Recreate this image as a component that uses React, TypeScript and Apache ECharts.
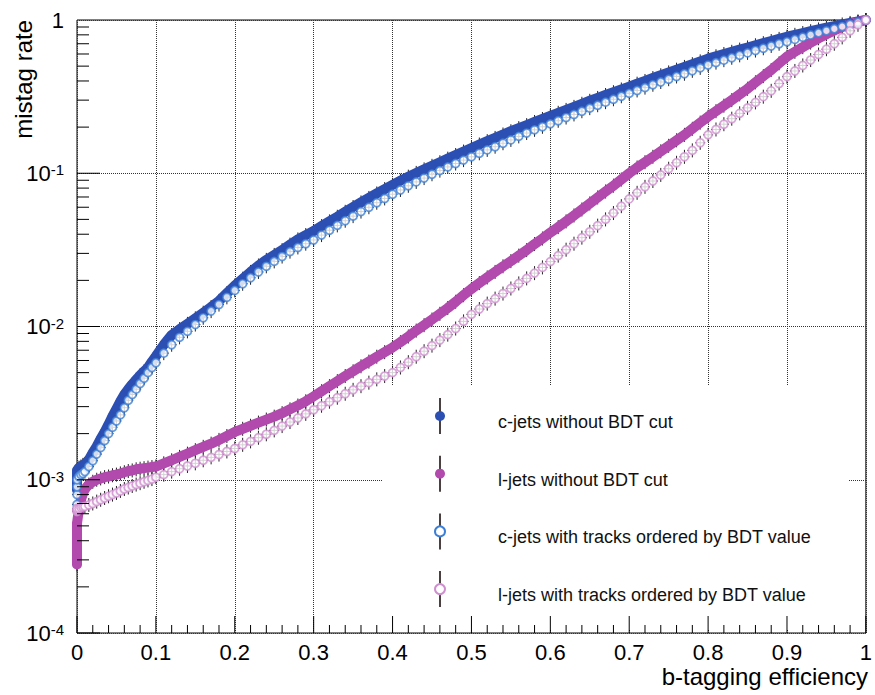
import React, { useEffect, useRef } from "react";
import * as echarts from "echarts";

// b-tagging efficiency grid (x values shared by all four curves)
const EFF = [
  0, 0, 0, 0, 0.0025, 0.005, 0.0075, 0.01, 0.015, 0.02, 0.025, 0.03, 0.035, 0.04, 0.045, 0.05,
  0.055, 0.06, 0.065, 0.07, 0.075, 0.08, 0.085, 0.09, 0.095, 0.1,
  0.11, 0.12, 0.13, 0.14, 0.15, 0.16, 0.17, 0.18, 0.19, 0.2,
  0.21, 0.22, 0.23, 0.24, 0.25, 0.26, 0.27, 0.28, 0.29, 0.3,
  0.31, 0.32, 0.33, 0.34, 0.35, 0.36, 0.37, 0.38, 0.39, 0.4,
  0.41, 0.42, 0.43, 0.44, 0.45, 0.46, 0.47, 0.48, 0.49, 0.5,
  0.51, 0.52, 0.53, 0.54, 0.55, 0.56, 0.57, 0.58, 0.59, 0.6,
  0.61, 0.62, 0.63, 0.64, 0.65, 0.66, 0.67, 0.68, 0.69, 0.7,
  0.71, 0.72, 0.73, 0.74, 0.75, 0.76, 0.77, 0.78, 0.79, 0.8,
  0.81, 0.82, 0.83, 0.84, 0.85, 0.86, 0.87, 0.88, 0.89, 0.9,
  0.91, 0.92, 0.93, 0.94, 0.95, 0.96, 0.97, 0.98, 0.99, 1.0,
];

// c-jets without BDT cut (mistag rate)
const C_NO_BDT = [
  8.6e-4, 9.5e-4, 1.05e-3, 1.15e-3, 1.2e-3, 1.22e-3, 1.25e-3, 1.27e-3, 1.35e-3, 1.5e-3, 1.65e-3, 1.85e-3,
  2.05e-3, 2.3e-3, 2.6e-3, 2.9e-3, 3.25e-3, 3.6e-3, 3.9e-3, 4.2e-3, 4.5e-3, 4.8e-3, 5.1e-3, 5.4e-3, 5.9e-3, 6.4e-3,
  7.6e-3, 8.8e-3, 9.6e-3, 1.04e-2, 1.13e-2, 1.23e-2, 1.34e-2, 1.47e-2, 1.65e-2, 1.85e-2,
  2.05e-2, 2.27e-2, 2.5e-2, 2.72e-2, 2.93e-2, 3.15e-2, 3.42e-2, 3.7e-2, 3.95e-2, 4.2e-2,
  4.52e-2, 4.85e-2, 5.2e-2, 5.6e-2, 6.02e-2, 6.45e-2, 6.9e-2, 7.38e-2, 7.88e-2, 8.4e-2,
  0.0895, 0.095, 0.1005, 0.106, 0.1118, 0.118, 0.1245, 0.1315, 0.1385, 0.146,
  0.154, 0.162, 0.17, 0.179, 0.188, 0.197, 0.206, 0.216, 0.226, 0.237,
  0.248, 0.259, 0.271, 0.284, 0.297, 0.31, 0.324, 0.338, 0.352, 0.367,
  0.384, 0.4, 0.418, 0.436, 0.455, 0.474, 0.494, 0.515, 0.537, 0.56,
  0.58, 0.6, 0.62, 0.641, 0.662, 0.684, 0.706, 0.729, 0.753, 0.778,
  0.8, 0.822, 0.845, 0.868, 0.89, 0.912, 0.935, 0.957, 0.978, 1.0,
];

// l-jets without BDT cut
const L_NO_BDT = [
  2.8e-4, 3.5e-4, 4.3e-4, 5.2e-4, 6.4e-4, 7.4e-4, 8.1e-4, 8.7e-4, 9.3e-4, 9.7e-4, 1.0e-3, 1.02e-3,
  1.04e-3, 1.05e-3, 1.07e-3, 1.08e-3, 1.1e-3, 1.12e-3, 1.14e-3, 1.15e-3, 1.17e-3, 1.18e-3, 1.19e-3, 1.2e-3, 1.21e-3, 1.22e-3,
  1.28e-3, 1.34e-3, 1.41e-3, 1.48e-3, 1.56e-3, 1.64e-3, 1.72e-3, 1.82e-3, 1.93e-3, 2.05e-3,
  2.15e-3, 2.25e-3, 2.36e-3, 2.47e-3, 2.58e-3, 2.72e-3, 2.88e-3, 3.05e-3, 3.25e-3, 3.5e-3,
  3.78e-3, 4.08e-3, 4.4e-3, 4.75e-3, 5.1e-3, 5.5e-3, 5.9e-3, 6.35e-3, 6.8e-3, 7.3e-3,
  7.9e-3, 8.6e-3, 9.4e-3, 1.02e-2, 1.11e-2, 1.21e-2, 1.32e-2, 1.45e-2, 1.6e-2, 1.76e-2,
  1.92e-2, 2.09e-2, 2.27e-2, 2.47e-2, 2.67e-2, 2.9e-2, 3.15e-2, 3.45e-2, 3.75e-2, 4.1e-2,
  4.45e-2, 4.85e-2, 5.3e-2, 5.8e-2, 6.35e-2, 6.95e-2, 7.6e-2, 8.3e-2, 9.1e-2, 0.1,
  0.109, 0.118, 0.128, 0.139, 0.151, 0.164, 0.178, 0.195, 0.214, 0.234,
  0.254, 0.276, 0.3, 0.327, 0.356, 0.392, 0.43, 0.472, 0.522, 0.577,
  0.62, 0.665, 0.712, 0.76, 0.808, 0.855, 0.9, 0.94, 0.972, 1.0,
];

// c-jets with tracks ordered by BDT value
const C_BDT = [
  6.9e-4, 8.0e-4, 9.0e-4, 1.0e-3, 1.05e-3, 1.08e-3, 1.1e-3, 1.13e-3, 1.22e-3, 1.33e-3, 1.47e-3, 1.62e-3,
  1.8e-3, 2.0e-3, 2.2e-3, 2.42e-3, 2.65e-3, 2.95e-3, 3.3e-3, 3.6e-3, 3.9e-3, 4.25e-3, 4.6e-3, 5.0e-3, 5.4e-3, 5.8e-3,
  6.7e-3, 7.6e-3, 8.5e-3, 9.3e-3, 1.03e-2, 1.14e-2, 1.26e-2, 1.39e-2, 1.55e-2, 1.72e-2,
  1.9e-2, 2.08e-2, 2.27e-2, 2.47e-2, 2.66e-2, 2.86e-2, 3.08e-2, 3.28e-2, 3.47e-2, 3.67e-2,
  3.95e-2, 4.25e-2, 4.57e-2, 4.9e-2, 5.25e-2, 5.62e-2, 6.0e-2, 6.42e-2, 6.85e-2, 7.3e-2,
  0.0778, 0.0828, 0.0878, 0.093, 0.0985, 0.104, 0.11, 0.1158, 0.1218, 0.128,
  0.135, 0.142, 0.149, 0.157, 0.165, 0.174, 0.183, 0.192, 0.201, 0.21,
  0.22, 0.231, 0.242, 0.254, 0.266, 0.278, 0.291, 0.304, 0.318, 0.332,
  0.347, 0.362, 0.378, 0.394, 0.411, 0.428, 0.446, 0.466, 0.487, 0.508,
  0.527, 0.547, 0.567, 0.588, 0.61, 0.632, 0.654, 0.677, 0.7, 0.722,
  0.747, 0.772, 0.798, 0.824, 0.85, 0.877, 0.905, 0.935, 0.965, 1.0,
];

// l-jets with tracks ordered by BDT value
const L_BDT = [
  6.2e-4, 6.3e-4, 6.4e-4, 6.5e-4, 6.5e-4, 6.6e-4, 6.65e-4, 6.7e-4, 6.85e-4, 7.0e-4, 7.2e-4, 7.4e-4,
  7.6e-4, 7.8e-4, 8.0e-4, 8.2e-4, 8.45e-4, 8.7e-4, 8.9e-4, 9.1e-4, 9.3e-4, 9.5e-4, 9.7e-4, 9.9e-4, 1.01e-3, 1.04e-3,
  1.08e-3, 1.13e-3, 1.18e-3, 1.23e-3, 1.28e-3, 1.34e-3, 1.4e-3, 1.46e-3, 1.53e-3, 1.6e-3,
  1.69e-3, 1.78e-3, 1.88e-3, 1.98e-3, 2.1e-3, 2.24e-3, 2.38e-3, 2.53e-3, 2.69e-3, 2.86e-3,
  3.04e-3, 3.23e-3, 3.43e-3, 3.64e-3, 3.86e-3, 4.08e-3, 4.3e-3, 4.52e-3, 4.75e-3, 5.0e-3,
  5.4e-3, 5.85e-3, 6.35e-3, 6.9e-3, 7.5e-3, 8.15e-3, 8.85e-3, 9.7e-3, 1.08e-2, 1.2e-2,
  1.3e-2, 1.41e-2, 1.52e-2, 1.64e-2, 1.77e-2, 1.91e-2, 2.06e-2, 2.23e-2, 2.43e-2, 2.65e-2,
  2.9e-2, 3.17e-2, 3.47e-2, 3.8e-2, 4.15e-2, 4.55e-2, 5.0e-2, 5.5e-2, 6.1e-2, 6.8e-2,
  7.45e-2, 8.15e-2, 8.9e-2, 9.75e-2, 0.107, 0.117, 0.128, 0.141, 0.158, 0.178,
  0.193, 0.209, 0.227, 0.246, 0.267, 0.29, 0.316, 0.345, 0.385, 0.427,
  0.465, 0.505, 0.548, 0.595, 0.645, 0.7, 0.77, 0.85, 0.93, 1.0,
];

const X_TICK_LABELS = ["0", "0.1", "0.2", "0.3", "0.4", "0.5", "0.6", "0.7", "0.8", "0.9", "1"];

const SERIES_NAMES = [
  "c-jets without BDT cut",
  "l-jets without BDT cut",
  "c-jets with tracks ordered by BDT value",
  "l-jets with tracks ordered by BDT value",
];
const SERIES_COLORS = ["#2c4fb4", "#b24aae", "#3d7fd6", "#cf8fcf"];
const SERIES_FILLED = [true, true, false, false];

const FONT = "'Liberation Sans', Arial, Helvetica, sans-serif";

export default function App() {
  const ref = useRef<HTMLDivElement>(null);

  useEffect(() => {
    if (!ref.current) return;
    const chart = echarts.init(ref.current, undefined, { renderer: "svg" });

    const ys = [C_NO_BDT, L_NO_BDT, C_BDT, L_BDT];
    const toPairs = (arr: number[]) => EFF.map((x, i) => [x, arr[i]]);

    // axis decoration ticks
    const xTicks: number[][] = [];
    for (let i = 0; i <= 50; i++) xTicks.push([i / 50, 1e-4, i % 5 === 0 ? 1 : 0]);
    const yTicks: number[][] = [];
    for (let e = -4; e <= -1; e++) {
      for (let m = 1; m <= 9; m++) yTicks.push([0, m * Math.pow(10, e), m === 1 ? 1 : 0]);
    }

    const errPoints: number[][] = [];
    ys.forEach((arr) => EFF.forEach((x, i) => errPoints.push([x, arr[i]])));

    const dataSeries: any[] = ys.map((arr, k) => {
      if (SERIES_FILLED[k]) {
        return {
          name: SERIES_NAMES[k],
          type: "line",
          data: toPairs(arr),
          symbol: "circle",
          symbolSize: 9,
          showSymbol: true,
          lineStyle: { width: 10, color: SERIES_COLORS[k], cap: "round", join: "round" },
          itemStyle: { color: SERIES_COLORS[k] },
          z: 3,
          silent: true,
        };
      }
      return {
        name: SERIES_NAMES[k],
        type: "scatter",
        data: toPairs(arr),
        symbol: "circle",
        symbolSize: 8,
        itemStyle: { color: "#fff", borderColor: SERIES_COLORS[k], borderWidth: 1.7 },
        z: 4,
        silent: true,
      };
    });

    const legendEls: any[] = [
      { type: "rect", shape: { x: 382, y: 386, width: 466, height: 244 }, style: { fill: "#fff" }, z: 1 },
    ];
    SERIES_NAMES.forEach((name, i) => {
      const y = 416 + i * 57.7;
      legendEls.push({
        type: "line",
        shape: { x1: 440, y1: y - 18, x2: 440, y2: y + 18 },
        style: { stroke: "#4a4040", lineWidth: 2 },
        z: 10,
      });
      legendEls.push({
        type: "circle",
        shape: { cx: 440, cy: y, r: 5 },
        style: SERIES_FILLED[i]
          ? { fill: SERIES_COLORS[i] }
          : { fill: "#fff", stroke: SERIES_COLORS[i], lineWidth: 2 },
        z: 11,
      });
      legendEls.push({
        type: "text",
        x: 498,
        y: y + 6,
        style: {
          text: name,
          fontSize: 18,
          fontFamily: FONT,
          fill: "#111",
          align: "left",
          verticalAlign: "middle",
          textAlign: "left",
          textVerticalAlign: "middle",
        },
        z: 11,
      });
    });

    legendEls.push({
      type: "text",
      x: 868,
      y: 676,
      style: {
        text: "b-tagging efficiency",
        fontSize: 24,
        fontFamily: FONT,
        fill: "#000",
        align: "right",
        verticalAlign: "middle",
        textAlign: "right",
        textVerticalAlign: "middle",
      },
      z: 11,
    });
    legendEls.push({
      type: "text",
      x: 23,
      y: 20,
      rotation: Math.PI / 2,
      style: {
        text: "mistag rate",
        fontSize: 24,
        fontFamily: FONT,
        fill: "#000",
        align: "right",
        verticalAlign: "middle",
        textAlign: "right",
        textVerticalAlign: "middle",
      },
      z: 11,
    });

    const option: any = {
      animation: false,
      backgroundColor: "#fff",
      grid: {
        left: 77,
        right: 7,
        top: 20,
        bottom: 62,
        show: true,
        borderColor: "#000",
        borderWidth: 1,
        backgroundColor: "transparent",
      },
      xAxis: {
        type: "value",
        min: 0,
        max: 1,
        interval: 0.1,
        axisLine: { show: false },
        axisTick: { show: false },
        splitLine: { show: true, lineStyle: { type: "dotted", color: "#333", width: 1 } },
        axisLabel: {
          fontSize: 22,
          color: "#000",
          fontFamily: FONT,
          margin: 8,
          formatter: (v: number) => X_TICK_LABELS[Math.round(v * 10)] ?? String(v),
        },
      },
      yAxis: {
        type: "log",
        logBase: 10,
        min: 1e-4,
        max: 1,
        axisLine: { show: false },
        axisTick: { show: false },
        splitLine: { show: true, lineStyle: { type: "dotted", color: "#333", width: 1 } },
        axisLabel: {
          color: "#000",
          fontFamily: FONT,
          margin: 13,
          formatter: (v: number) => {
            const e = Math.round(Math.log10(v));
            if (e === 0) return "{b|1}";
            return `{b|10}{s|${e}}`;
          },
          rich: {
            b: { fontSize: 22, fontFamily: FONT, color: "#000" },
            s: { fontSize: 15, fontFamily: FONT, color: "#000", verticalAlign: "top" },
          },
        },
      },
      graphic: { elements: legendEls },
      series: [
        {
          type: "custom",
          data: errPoints,
          silent: true,
          z: 2,
          renderItem: (params: any, api: any) => {
            const p = api.coord([api.value(0), api.value(1)]);
            return {
              type: "group",
              children: [
                { type: "line", shape: { x1: p[0], y1: p[1] - 7, x2: p[0], y2: p[1] + 7 }, style: { stroke: "#222", lineWidth: 1 } },
                { type: "line", shape: { x1: p[0] - 5, y1: p[1], x2: p[0] + 5, y2: p[1] }, style: { stroke: "#222", lineWidth: 1 } },
              ],
            };
          },
        },
        ...dataSeries,
        {
          type: "custom",
          data: xTicks,
          silent: true,
          z: 12,
          clip: false,
          renderItem: (params: any, api: any) => {
            const p = api.coord([api.value(0), 1e-4]);
            const len = api.value(2) ? 17 : 8;
            return {
              type: "line",
              shape: { x1: p[0], y1: p[1], x2: p[0], y2: p[1] - len },
              style: { stroke: "#000", lineWidth: 1 },
            };
          },
        },
        {
          type: "custom",
          data: yTicks,
          silent: true,
          z: 12,
          clip: false,
          renderItem: (params: any, api: any) => {
            const p = api.coord([0, api.value(1)]);
            const len = api.value(2) ? 23 : 12;
            return {
              type: "line",
              shape: { x1: p[0], y1: p[1], x2: p[0] + len, y2: p[1] },
              style: { stroke: "#000", lineWidth: 1 },
            };
          },
        },
      ],
    };

    chart.setOption(option);
    return () => chart.dispose();
  }, []);

  return (
    <div
      ref={ref}
      style={{ position: "fixed", left: 0, top: 0, width: 875, height: 695, background: "#fff" }}
    />
  );
}
